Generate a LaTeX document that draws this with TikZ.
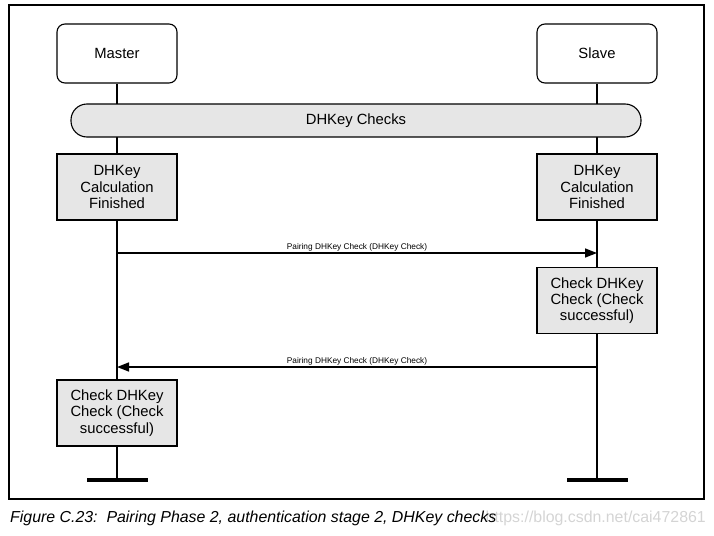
\documentclass[tikz,border=0pt]{standalone}
\usepackage{fontspec}
\setmainfont{Liberation Sans}
\usetikzlibrary{arrows.meta,backgrounds}
\definecolor{boxgray}{RGB}{230,230,230}
\begin{document}
\begin{tikzpicture}[x=1pt,y=-1pt,
 actor/.style={draw, line width=1.1pt, rounded corners=8pt, minimum width=120pt, minimum height=59pt, font=\fontsize{14.8}{16}\selectfont, fill=white},
 stepbox/.style={draw, line width=1.1pt, fill=boxgray, minimum width=120pt, minimum height=66pt, align=center, font=\fontsize{14.8}{16.3}\selectfont, inner sep=1pt},
 pill/.style={draw, line width=1.1pt, fill=boxgray, rounded corners=16pt, minimum width=570pt, minimum height=33pt, font=\fontsize{14.8}{16}\selectfont},
 life/.style={line width=1.1pt},
 msg/.style={line width=1.5pt, -{Triangle[length=12pt,width=9pt]}},
 msglabel/.style={font=\fontsize{8.3}{9}\selectfont, inner sep=0pt, anchor=base},
 endbar/.style={line width=4pt},
 frame/.style={line width=1.1pt}
]
\useasboundingbox (0,0) rectangle (714,535);
\draw[frame] (9,5) rectangle (704,499);

\node[actor] (master) at (117,53.5) {Master};
\node[actor] (slave) at (597,53.5) {Slave};
\node[pill] (checks) at (356,120.5) {DHKey Checks};
\node[stepbox] (mcalc) at (117,187) {DHKey\\Calculation\\Finished};
\node[stepbox] (scalc) at (597,187) {DHKey\\Calculation\\Finished};
\node[stepbox] (scheck) at (597,300.5) {Check DHKey\\Check (Check\\successful)};
\node[stepbox] (mcheck) at (117,413) {Check DHKey\\Check (Check\\successful)};

\coordinate (mend) at (117,480);
\coordinate (send) at (597,480);
\coordinate (m1) at (117,253);
\coordinate (s1) at (597,253);
\coordinate (m2) at (117,367);
\coordinate (s2) at (597,367);

\begin{pgfonlayer}{background}
\draw[life] (master.south) -- (mend);
\draw[life] (slave.south) -- (send);
\end{pgfonlayer}

\draw[msg] (m1) -- (s1);
\node[msglabel] (lab1) at (357,249.5) {Pairing DHKey Check (DHKey Check)};
\draw[msg] (s2) -- (m2);
\node[msglabel] (lab2) at (357,363.5) {Pairing DHKey Check (DHKey Check)};

\draw[endbar] (mend) ++(-30,0) -- ++(61,0);
\draw[endbar] (send) ++(-30,0) -- ++(61,0);

\node[anchor=base east, text=black!17, font=\fontsize{15.9}{17}\selectfont, inner sep=0pt] (wm) at (706,522.5) {https://blog.csdn.net/cai472861};
\node[anchor=base west, font=\itshape\fontsize{15.9}{17}\selectfont, inner sep=0pt] (cap) at (10,522.5) {Figure C.23:\ \ Pairing Phase 2, authentication stage 2, DHKey checks};
\end{tikzpicture}
\end{document}
